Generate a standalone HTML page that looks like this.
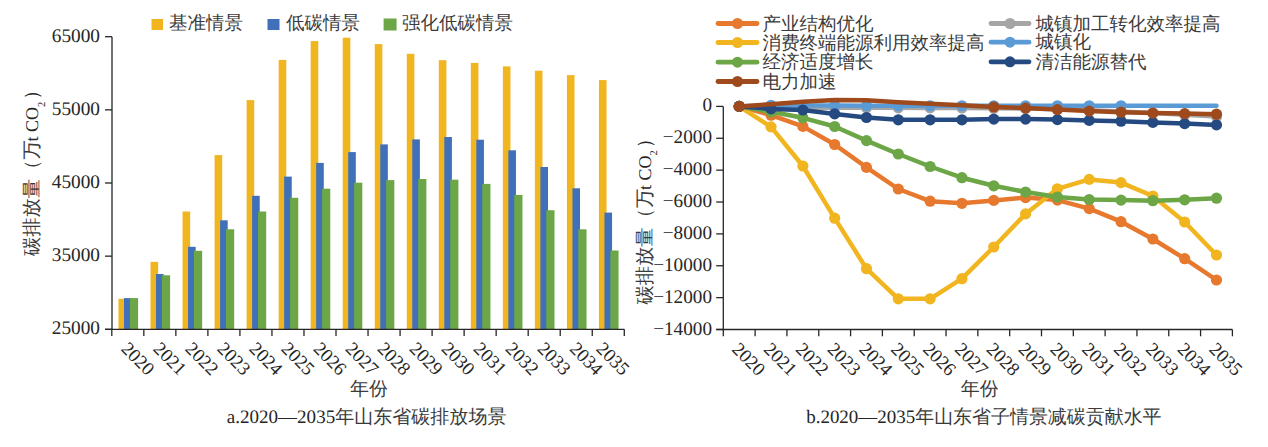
<!DOCTYPE html><html><head><meta charset="utf-8"><style>html,body{margin:0;padding:0;background:#fff;}svg{display:block}text{font-family:"Liberation Serif";text-rendering:geometricPrecision;fill:#262626}</style></head><body>
<svg width="1268" height="447" viewBox="0 0 1268 447">
<rect width="1268" height="447" fill="#fff"/>
<rect x="118.50" y="298.80" width="7.6" height="30.50" fill="#F1B51F"/>
<rect x="124.00" y="298.10" width="7.6" height="31.20" fill="#4070B9"/>
<rect x="129.90" y="298.10" width="8.2" height="31.20" fill="#6CA646"/>
<rect x="150.53" y="261.90" width="7.6" height="67.40" fill="#F1B51F"/>
<rect x="156.03" y="274.00" width="7.6" height="55.30" fill="#4070B9"/>
<rect x="161.93" y="275.30" width="8.2" height="54.00" fill="#6CA646"/>
<rect x="182.56" y="211.50" width="7.6" height="117.80" fill="#F1B51F"/>
<rect x="188.06" y="246.80" width="7.6" height="82.50" fill="#4070B9"/>
<rect x="193.96" y="250.80" width="8.2" height="78.50" fill="#6CA646"/>
<rect x="214.59" y="155.10" width="7.6" height="174.20" fill="#F1B51F"/>
<rect x="220.09" y="220.30" width="7.6" height="109.00" fill="#4070B9"/>
<rect x="225.99" y="229.30" width="8.2" height="100.00" fill="#6CA646"/>
<rect x="246.62" y="100.10" width="7.6" height="229.20" fill="#F1B51F"/>
<rect x="252.12" y="195.80" width="7.6" height="133.50" fill="#4070B9"/>
<rect x="258.02" y="211.50" width="8.2" height="117.80" fill="#6CA646"/>
<rect x="278.65" y="59.90" width="7.6" height="269.40" fill="#F1B51F"/>
<rect x="284.15" y="176.60" width="7.6" height="152.70" fill="#4070B9"/>
<rect x="290.05" y="197.80" width="8.2" height="131.50" fill="#6CA646"/>
<rect x="310.68" y="41.10" width="7.6" height="288.20" fill="#F1B51F"/>
<rect x="316.18" y="162.90" width="7.6" height="166.40" fill="#4070B9"/>
<rect x="322.08" y="188.70" width="8.2" height="140.60" fill="#6CA646"/>
<rect x="342.71" y="37.70" width="7.6" height="291.60" fill="#F1B51F"/>
<rect x="348.21" y="152.10" width="7.6" height="177.20" fill="#4070B9"/>
<rect x="354.11" y="182.70" width="8.2" height="146.60" fill="#6CA646"/>
<rect x="374.74" y="44.10" width="7.6" height="285.20" fill="#F1B51F"/>
<rect x="380.24" y="144.40" width="7.6" height="184.90" fill="#4070B9"/>
<rect x="386.14" y="180.10" width="8.2" height="149.20" fill="#6CA646"/>
<rect x="406.77" y="53.80" width="7.6" height="275.50" fill="#F1B51F"/>
<rect x="412.27" y="139.40" width="7.6" height="189.90" fill="#4070B9"/>
<rect x="418.17" y="179.00" width="8.2" height="150.30" fill="#6CA646"/>
<rect x="438.80" y="60.20" width="7.6" height="269.10" fill="#F1B51F"/>
<rect x="444.30" y="137.00" width="7.6" height="192.30" fill="#4070B9"/>
<rect x="450.20" y="179.70" width="8.2" height="149.60" fill="#6CA646"/>
<rect x="470.83" y="62.90" width="7.6" height="266.40" fill="#F1B51F"/>
<rect x="476.33" y="139.70" width="7.6" height="189.60" fill="#4070B9"/>
<rect x="482.23" y="183.90" width="8.2" height="145.40" fill="#6CA646"/>
<rect x="502.86" y="66.40" width="7.6" height="262.90" fill="#F1B51F"/>
<rect x="508.36" y="150.30" width="7.6" height="179.00" fill="#4070B9"/>
<rect x="514.26" y="194.90" width="8.2" height="134.40" fill="#6CA646"/>
<rect x="534.89" y="70.70" width="7.6" height="258.60" fill="#F1B51F"/>
<rect x="540.39" y="167.00" width="7.6" height="162.30" fill="#4070B9"/>
<rect x="546.29" y="210.20" width="8.2" height="119.10" fill="#6CA646"/>
<rect x="566.92" y="75.10" width="7.6" height="254.20" fill="#F1B51F"/>
<rect x="572.42" y="188.30" width="7.6" height="141.00" fill="#4070B9"/>
<rect x="578.32" y="229.30" width="8.2" height="100.00" fill="#6CA646"/>
<rect x="598.95" y="80.10" width="7.6" height="249.20" fill="#F1B51F"/>
<rect x="604.45" y="212.60" width="7.6" height="116.70" fill="#4070B9"/>
<rect x="610.35" y="250.50" width="8.2" height="78.80" fill="#6CA646"/>
<g stroke="#262626" stroke-width="1.3" fill="none">
<line x1="112" y1="36.7" x2="112" y2="329.30"/>
<line x1="105" y1="36.70" x2="112" y2="36.70"/>
<line x1="105" y1="109.85" x2="112" y2="109.85"/>
<line x1="105" y1="183.00" x2="112" y2="183.00"/>
<line x1="105" y1="256.15" x2="112" y2="256.15"/>
<line x1="105" y1="329.30" x2="112" y2="329.30"/>
<line x1="105" y1="329.30" x2="624.3" y2="329.30"/>
<line x1="111.80" y1="329.30" x2="111.80" y2="336"/>
<line x1="143.83" y1="329.30" x2="143.83" y2="336"/>
<line x1="175.86" y1="329.30" x2="175.86" y2="336"/>
<line x1="207.89" y1="329.30" x2="207.89" y2="336"/>
<line x1="239.92" y1="329.30" x2="239.92" y2="336"/>
<line x1="271.95" y1="329.30" x2="271.95" y2="336"/>
<line x1="303.98" y1="329.30" x2="303.98" y2="336"/>
<line x1="336.01" y1="329.30" x2="336.01" y2="336"/>
<line x1="368.04" y1="329.30" x2="368.04" y2="336"/>
<line x1="400.07" y1="329.30" x2="400.07" y2="336"/>
<line x1="432.10" y1="329.30" x2="432.10" y2="336"/>
<line x1="464.13" y1="329.30" x2="464.13" y2="336"/>
<line x1="496.16" y1="329.30" x2="496.16" y2="336"/>
<line x1="528.19" y1="329.30" x2="528.19" y2="336"/>
<line x1="560.22" y1="329.30" x2="560.22" y2="336"/>
<line x1="592.25" y1="329.30" x2="592.25" y2="336"/>
<line x1="624.28" y1="329.30" x2="624.28" y2="336"/>
</g>
<text x="100" y="41.70" font-size="19.3" text-anchor="end">65000</text>
<text x="100" y="114.85" font-size="19.3" text-anchor="end">55000</text>
<text x="100" y="188.00" font-size="19.3" text-anchor="end">45000</text>
<text x="100" y="261.15" font-size="19.3" text-anchor="end">35000</text>
<text x="100" y="334.30" font-size="19.3" text-anchor="end">25000</text>
<text transform="translate(120.22,349.8) rotate(45)" font-size="18.8">2020</text>
<text transform="translate(152.25,349.8) rotate(45)" font-size="18.8">2021</text>
<text transform="translate(184.28,349.8) rotate(45)" font-size="18.8">2022</text>
<text transform="translate(216.31,349.8) rotate(45)" font-size="18.8">2023</text>
<text transform="translate(248.34,349.8) rotate(45)" font-size="18.8">2024</text>
<text transform="translate(280.37,349.8) rotate(45)" font-size="18.8">2025</text>
<text transform="translate(312.39,349.8) rotate(45)" font-size="18.8">2026</text>
<text transform="translate(344.43,349.8) rotate(45)" font-size="18.8">2027</text>
<text transform="translate(376.45,349.8) rotate(45)" font-size="18.8">2028</text>
<text transform="translate(408.49,349.8) rotate(45)" font-size="18.8">2029</text>
<text transform="translate(440.51,349.8) rotate(45)" font-size="18.8">2030</text>
<text transform="translate(472.55,349.8) rotate(45)" font-size="18.8">2031</text>
<text transform="translate(504.57,349.8) rotate(45)" font-size="18.8">2032</text>
<text transform="translate(536.61,349.8) rotate(45)" font-size="18.8">2033</text>
<text transform="translate(568.63,349.8) rotate(45)" font-size="18.8">2034</text>
<text transform="translate(595.26,349.8) rotate(45)" font-size="18.8">2035</text>
<rect x="151.5" y="19" width="11.5" height="11" fill="#F1B51F"/>
<text x="169" y="29" font-size="18.5" style="fill:#3a3a3a">基准情景</text>
<rect x="267.5" y="19" width="12" height="11" fill="#4070B9"/>
<text x="286" y="29" font-size="18.5" style="fill:#3a3a3a">低碳情景</text>
<rect x="383.6" y="18.5" width="13" height="12" fill="#6CA646"/>
<text x="402" y="29" font-size="18.5" style="fill:#3a3a3a">强化低碳情景</text>
<g transform="translate(0.00,0.00)">
<text transform="translate(38,256) rotate(-90)" font-size="19.3" style="fill:#3a3a3a">碳排放量（万</text>
<text transform="translate(38,141.5) rotate(-90)" font-size="18">t CO</text>
<text transform="translate(44.5,107) rotate(-90)" font-size="10.5">2</text>
<text transform="translate(38,99.8) rotate(-90)" font-size="19.3">）</text>
</g>
<text x="350" y="395" font-size="19" style="fill:#3a3a3a">年份</text>
<text x="226.8" y="422.5" font-size="19.05">a.2020—2035<tspan style="fill:#3a3a3a">年山东省碳排放场景</tspan></text>
<g stroke="#262626" stroke-width="1.3" fill="none">
<line x1="723.3" y1="106.40" x2="723.3" y2="329.50"/>
<line x1="716.2" y1="106.40" x2="723.3" y2="106.40"/>
<line x1="716.2" y1="138.27" x2="723.3" y2="138.27"/>
<line x1="716.2" y1="170.14" x2="723.3" y2="170.14"/>
<line x1="716.2" y1="202.01" x2="723.3" y2="202.01"/>
<line x1="716.2" y1="233.89" x2="723.3" y2="233.89"/>
<line x1="716.2" y1="265.76" x2="723.3" y2="265.76"/>
<line x1="716.2" y1="297.63" x2="723.3" y2="297.63"/>
<line x1="716.2" y1="329.50" x2="723.3" y2="329.50"/>
<line x1="716.2" y1="329.50" x2="1232.4" y2="329.50"/>
<line x1="723.30" y1="329.50" x2="723.30" y2="336.3"/>
<line x1="755.12" y1="329.50" x2="755.12" y2="336.3"/>
<line x1="786.94" y1="329.50" x2="786.94" y2="336.3"/>
<line x1="818.76" y1="329.50" x2="818.76" y2="336.3"/>
<line x1="850.58" y1="329.50" x2="850.58" y2="336.3"/>
<line x1="882.39" y1="329.50" x2="882.39" y2="336.3"/>
<line x1="914.21" y1="329.50" x2="914.21" y2="336.3"/>
<line x1="946.03" y1="329.50" x2="946.03" y2="336.3"/>
<line x1="977.85" y1="329.50" x2="977.85" y2="336.3"/>
<line x1="1009.67" y1="329.50" x2="1009.67" y2="336.3"/>
<line x1="1041.49" y1="329.50" x2="1041.49" y2="336.3"/>
<line x1="1073.31" y1="329.50" x2="1073.31" y2="336.3"/>
<line x1="1105.12" y1="329.50" x2="1105.12" y2="336.3"/>
<line x1="1136.94" y1="329.50" x2="1136.94" y2="336.3"/>
<line x1="1168.76" y1="329.50" x2="1168.76" y2="336.3"/>
<line x1="1200.58" y1="329.50" x2="1200.58" y2="336.3"/>
<line x1="1232.40" y1="329.50" x2="1232.40" y2="336.3"/>
</g>
<text x="712" y="111.40" font-size="19.2" text-anchor="end">0</text>
<text x="712" y="143.27" font-size="19.2" text-anchor="end">−2000</text>
<text x="712" y="175.14" font-size="19.2" text-anchor="end">−4000</text>
<text x="712" y="207.01" font-size="19.2" text-anchor="end">−6000</text>
<text x="712" y="238.89" font-size="19.2" text-anchor="end">−8000</text>
<text x="712" y="270.76" font-size="19.2" text-anchor="end">−10000</text>
<text x="712" y="302.63" font-size="19.2" text-anchor="end">−12000</text>
<text x="712" y="334.50" font-size="19.2" text-anchor="end">−14000</text>
<text transform="translate(731.01,350.3) rotate(45)" font-size="18.8">2020</text>
<text transform="translate(762.83,350.3) rotate(45)" font-size="18.8">2021</text>
<text transform="translate(794.65,350.3) rotate(45)" font-size="18.8">2022</text>
<text transform="translate(826.47,350.3) rotate(45)" font-size="18.8">2023</text>
<text transform="translate(858.28,350.3) rotate(45)" font-size="18.8">2024</text>
<text transform="translate(890.10,350.3) rotate(45)" font-size="18.8">2025</text>
<text transform="translate(921.92,350.3) rotate(45)" font-size="18.8">2026</text>
<text transform="translate(953.74,350.3) rotate(45)" font-size="18.8">2027</text>
<text transform="translate(985.56,350.3) rotate(45)" font-size="18.8">2028</text>
<text transform="translate(1017.38,350.3) rotate(45)" font-size="18.8">2029</text>
<text transform="translate(1049.20,350.3) rotate(45)" font-size="18.8">2030</text>
<text transform="translate(1081.02,350.3) rotate(45)" font-size="18.8">2031</text>
<text transform="translate(1112.83,350.3) rotate(45)" font-size="18.8">2032</text>
<text transform="translate(1144.65,350.3) rotate(45)" font-size="18.8">2033</text>
<text transform="translate(1176.47,350.3) rotate(45)" font-size="18.8">2034</text>
<text transform="translate(1208.29,350.3) rotate(45)" font-size="18.8">2035</text>
<g transform="translate(612.50,48.50)">
<text transform="translate(38,256) rotate(-90)" font-size="19.3" style="fill:#3a3a3a">碳排放量（万</text>
<text transform="translate(38,141.5) rotate(-90)" font-size="18">t CO</text>
<text transform="translate(44.5,107) rotate(-90)" font-size="10.5">2</text>
<text transform="translate(38,99.8) rotate(-90)" font-size="19.3">）</text>
</g>
<text x="960.8" y="395" font-size="19" style="fill:#3a3a3a">年份</text>
<text x="806.2" y="422.5" font-size="18.97">b.2020—2035<tspan style="fill:#3a3a3a">年山东省子情景减碳贡献水平</tspan></text>
<polyline points="739.21,106.40 771.03,115.20 802.85,126.40 834.67,144.50 866.48,167.40 898.30,189.00 930.12,201.20 961.94,203.30 993.76,200.40 1025.58,197.60 1057.40,200.10 1089.22,208.60 1121.03,221.70 1152.85,239.00 1184.67,258.70 1216.49,280.00" fill="none" stroke="#E7792F" stroke-width="4.5" stroke-linejoin="round" stroke-linecap="round"/>
<circle cx="739.21" cy="106.40" r="5.6" fill="#E7792F"/>
<circle cx="771.03" cy="115.20" r="5.6" fill="#E7792F"/>
<circle cx="802.85" cy="126.40" r="5.6" fill="#E7792F"/>
<circle cx="834.67" cy="144.50" r="5.6" fill="#E7792F"/>
<circle cx="866.48" cy="167.40" r="5.6" fill="#E7792F"/>
<circle cx="898.30" cy="189.00" r="5.6" fill="#E7792F"/>
<circle cx="930.12" cy="201.20" r="5.6" fill="#E7792F"/>
<circle cx="961.94" cy="203.30" r="5.6" fill="#E7792F"/>
<circle cx="993.76" cy="200.40" r="5.6" fill="#E7792F"/>
<circle cx="1025.58" cy="197.60" r="5.6" fill="#E7792F"/>
<circle cx="1057.40" cy="200.10" r="5.6" fill="#E7792F"/>
<circle cx="1089.22" cy="208.60" r="5.6" fill="#E7792F"/>
<circle cx="1121.03" cy="221.70" r="5.6" fill="#E7792F"/>
<circle cx="1152.85" cy="239.00" r="5.6" fill="#E7792F"/>
<circle cx="1184.67" cy="258.70" r="5.6" fill="#E7792F"/>
<circle cx="1216.49" cy="280.00" r="5.6" fill="#E7792F"/>
<polyline points="739.21,106.40 771.03,107.00 802.85,107.60 834.67,107.80 866.48,107.80 898.30,107.80 930.12,107.90 961.94,108.00 993.76,108.20 1025.58,108.60 1057.40,109.30 1089.22,110.30 1121.03,111.60 1152.85,113.00 1184.67,114.80 1216.49,116.50" fill="none" stroke="#A5A5A5" stroke-width="4.5" stroke-linejoin="round" stroke-linecap="round"/>
<circle cx="739.21" cy="106.40" r="5.6" fill="#A5A5A5"/>
<circle cx="771.03" cy="107.00" r="5.6" fill="#A5A5A5"/>
<circle cx="802.85" cy="107.60" r="5.6" fill="#A5A5A5"/>
<circle cx="834.67" cy="107.80" r="5.6" fill="#A5A5A5"/>
<circle cx="866.48" cy="107.80" r="5.6" fill="#A5A5A5"/>
<circle cx="898.30" cy="107.80" r="5.6" fill="#A5A5A5"/>
<circle cx="930.12" cy="107.90" r="5.6" fill="#A5A5A5"/>
<circle cx="961.94" cy="108.00" r="5.6" fill="#A5A5A5"/>
<circle cx="993.76" cy="108.20" r="5.6" fill="#A5A5A5"/>
<circle cx="1025.58" cy="108.60" r="5.6" fill="#A5A5A5"/>
<circle cx="1057.40" cy="109.30" r="5.6" fill="#A5A5A5"/>
<circle cx="1089.22" cy="110.30" r="5.6" fill="#A5A5A5"/>
<circle cx="1121.03" cy="111.60" r="5.6" fill="#A5A5A5"/>
<circle cx="1152.85" cy="113.00" r="5.6" fill="#A5A5A5"/>
<circle cx="1184.67" cy="114.80" r="5.6" fill="#A5A5A5"/>
<circle cx="1216.49" cy="116.50" r="5.6" fill="#A5A5A5"/>
<polyline points="739.21,106.40 771.03,126.90 802.85,166.00 834.67,218.20 866.48,268.70 898.30,298.80 930.12,298.80 961.94,278.70 993.76,247.00 1025.58,213.90 1057.40,188.80 1089.22,179.40 1121.03,182.60 1152.85,196.00 1184.67,222.00 1216.49,255.00" fill="none" stroke="#F1B51F" stroke-width="4.5" stroke-linejoin="round" stroke-linecap="round"/>
<circle cx="739.21" cy="106.40" r="5.6" fill="#F1B51F"/>
<circle cx="771.03" cy="126.90" r="5.6" fill="#F1B51F"/>
<circle cx="802.85" cy="166.00" r="5.6" fill="#F1B51F"/>
<circle cx="834.67" cy="218.20" r="5.6" fill="#F1B51F"/>
<circle cx="866.48" cy="268.70" r="5.6" fill="#F1B51F"/>
<circle cx="898.30" cy="298.80" r="5.6" fill="#F1B51F"/>
<circle cx="930.12" cy="298.80" r="5.6" fill="#F1B51F"/>
<circle cx="961.94" cy="278.70" r="5.6" fill="#F1B51F"/>
<circle cx="993.76" cy="247.00" r="5.6" fill="#F1B51F"/>
<circle cx="1025.58" cy="213.90" r="5.6" fill="#F1B51F"/>
<circle cx="1057.40" cy="188.80" r="5.6" fill="#F1B51F"/>
<circle cx="1089.22" cy="179.40" r="5.6" fill="#F1B51F"/>
<circle cx="1121.03" cy="182.60" r="5.6" fill="#F1B51F"/>
<circle cx="1152.85" cy="196.00" r="5.6" fill="#F1B51F"/>
<circle cx="1184.67" cy="222.00" r="5.6" fill="#F1B51F"/>
<circle cx="1216.49" cy="255.00" r="5.6" fill="#F1B51F"/>
<polyline points="739.21,106.40 771.03,105.30 802.85,105.50 834.67,105.50 866.48,105.80 898.30,105.80 930.12,105.80 961.94,105.80 993.76,105.80 1025.58,105.80 1057.40,105.80 1089.22,105.80 1121.03,105.80 1152.85,105.80 1184.67,105.80 1216.49,105.80" fill="none" stroke="#5B9BD5" stroke-width="4.5" stroke-linejoin="round" stroke-linecap="round"/>
<circle cx="739.21" cy="106.40" r="5.6" fill="#5B9BD5"/>
<circle cx="771.03" cy="105.30" r="5.6" fill="#5B9BD5"/>
<circle cx="802.85" cy="105.50" r="5.6" fill="#5B9BD5"/>
<circle cx="834.67" cy="105.50" r="5.6" fill="#5B9BD5"/>
<circle cx="866.48" cy="105.80" r="5.6" fill="#5B9BD5"/>
<circle cx="898.30" cy="105.80" r="5.6" fill="#5B9BD5"/>
<circle cx="930.12" cy="105.80" r="5.6" fill="#5B9BD5"/>
<circle cx="961.94" cy="105.80" r="5.6" fill="#5B9BD5"/>
<circle cx="993.76" cy="105.80" r="5.6" fill="#5B9BD5"/>
<circle cx="1025.58" cy="105.80" r="5.6" fill="#5B9BD5"/>
<circle cx="1057.40" cy="105.80" r="5.6" fill="#5B9BD5"/>
<circle cx="1089.22" cy="105.80" r="5.6" fill="#5B9BD5"/>
<circle cx="1121.03" cy="105.80" r="5.6" fill="#5B9BD5"/>
<polyline points="739.21,106.40 771.03,111.80 802.85,117.80 834.67,126.50 866.48,140.60 898.30,154.00 930.12,166.50 961.94,177.70 993.76,185.80 1025.58,192.00 1057.40,197.00 1089.22,199.50 1121.03,200.10 1152.85,200.70 1184.67,199.80 1216.49,198.20" fill="none" stroke="#6CA646" stroke-width="4.5" stroke-linejoin="round" stroke-linecap="round"/>
<circle cx="739.21" cy="106.40" r="5.6" fill="#6CA646"/>
<circle cx="771.03" cy="111.80" r="5.6" fill="#6CA646"/>
<circle cx="802.85" cy="117.80" r="5.6" fill="#6CA646"/>
<circle cx="834.67" cy="126.50" r="5.6" fill="#6CA646"/>
<circle cx="866.48" cy="140.60" r="5.6" fill="#6CA646"/>
<circle cx="898.30" cy="154.00" r="5.6" fill="#6CA646"/>
<circle cx="930.12" cy="166.50" r="5.6" fill="#6CA646"/>
<circle cx="961.94" cy="177.70" r="5.6" fill="#6CA646"/>
<circle cx="993.76" cy="185.80" r="5.6" fill="#6CA646"/>
<circle cx="1025.58" cy="192.00" r="5.6" fill="#6CA646"/>
<circle cx="1057.40" cy="197.00" r="5.6" fill="#6CA646"/>
<circle cx="1089.22" cy="199.50" r="5.6" fill="#6CA646"/>
<circle cx="1121.03" cy="200.10" r="5.6" fill="#6CA646"/>
<circle cx="1152.85" cy="200.70" r="5.6" fill="#6CA646"/>
<circle cx="1184.67" cy="199.80" r="5.6" fill="#6CA646"/>
<circle cx="1216.49" cy="198.20" r="5.6" fill="#6CA646"/>
<polyline points="739.21,106.40 771.03,108.90 802.85,110.00 834.67,113.90 866.48,117.50 898.30,119.80 930.12,119.80 961.94,119.80 993.76,119.10 1025.58,119.10 1057.40,119.60 1089.22,120.40 1121.03,121.20 1152.85,122.40 1184.67,123.60 1216.49,124.90" fill="none" stroke="#254A82" stroke-width="4.5" stroke-linejoin="round" stroke-linecap="round"/>
<circle cx="739.21" cy="106.40" r="5.6" fill="#254A82"/>
<circle cx="771.03" cy="108.90" r="5.6" fill="#254A82"/>
<circle cx="802.85" cy="110.00" r="5.6" fill="#254A82"/>
<circle cx="834.67" cy="113.90" r="5.6" fill="#254A82"/>
<circle cx="866.48" cy="117.50" r="5.6" fill="#254A82"/>
<circle cx="898.30" cy="119.80" r="5.6" fill="#254A82"/>
<circle cx="930.12" cy="119.80" r="5.6" fill="#254A82"/>
<circle cx="961.94" cy="119.80" r="5.6" fill="#254A82"/>
<circle cx="993.76" cy="119.10" r="5.6" fill="#254A82"/>
<circle cx="1025.58" cy="119.10" r="5.6" fill="#254A82"/>
<circle cx="1057.40" cy="119.60" r="5.6" fill="#254A82"/>
<circle cx="1089.22" cy="120.40" r="5.6" fill="#254A82"/>
<circle cx="1121.03" cy="121.20" r="5.6" fill="#254A82"/>
<circle cx="1152.85" cy="122.40" r="5.6" fill="#254A82"/>
<circle cx="1184.67" cy="123.60" r="5.6" fill="#254A82"/>
<circle cx="1216.49" cy="124.90" r="5.6" fill="#254A82"/>
<polyline points="739.21,106.40 771.03,104.20 802.85,101.80 834.67,100.00 866.48,100.30 898.30,102.30 930.12,103.70 961.94,105.20 993.76,107.00 1025.58,108.10 1057.40,109.60 1089.22,111.10 1121.03,112.20 1152.85,113.10 1184.67,113.60 1216.49,114.20" fill="none" stroke="#9E4A1C" stroke-width="4.5" stroke-linejoin="round" stroke-linecap="round"/>
<circle cx="739.21" cy="106.40" r="5.6" fill="#9E4A1C"/>
<circle cx="993.76" cy="107.00" r="5.6" fill="#9E4A1C"/>
<circle cx="1025.58" cy="108.10" r="5.6" fill="#9E4A1C"/>
<circle cx="1057.40" cy="109.60" r="5.6" fill="#9E4A1C"/>
<circle cx="1089.22" cy="111.10" r="5.6" fill="#9E4A1C"/>
<circle cx="1121.03" cy="112.20" r="5.6" fill="#9E4A1C"/>
<circle cx="1152.85" cy="113.10" r="5.6" fill="#9E4A1C"/>
<circle cx="1184.67" cy="113.60" r="5.6" fill="#9E4A1C"/>
<circle cx="1216.49" cy="114.20" r="5.6" fill="#9E4A1C"/>
<line x1="718.0" y1="23.5" x2="757.0" y2="23.5" stroke="#E7792F" stroke-width="4.8" stroke-linecap="round"/>
<circle cx="737.5" cy="23.5" r="5.5" fill="#E7792F"/>
<text x="762.4" y="29.5" font-size="18.5" style="fill:#3a3a3a">产业结构优化</text>
<line x1="718.0" y1="42.5" x2="757.0" y2="42.5" stroke="#F1B51F" stroke-width="4.8" stroke-linecap="round"/>
<circle cx="737.5" cy="42.5" r="5.5" fill="#F1B51F"/>
<text x="762.4" y="48.5" font-size="18.5" style="fill:#3a3a3a">消费终端能源利用效率提高</text>
<line x1="718.0" y1="62.2" x2="757.0" y2="62.2" stroke="#6CA646" stroke-width="4.8" stroke-linecap="round"/>
<circle cx="737.5" cy="62.2" r="5.5" fill="#6CA646"/>
<text x="762.4" y="68.2" font-size="18.5" style="fill:#3a3a3a">经济适度增长</text>
<line x1="718.0" y1="81.5" x2="757.0" y2="81.5" stroke="#9E4A1C" stroke-width="4.8" stroke-linecap="round"/>
<circle cx="737.5" cy="81.5" r="5.5" fill="#9E4A1C"/>
<text x="762.4" y="87.5" font-size="18.5" style="fill:#3a3a3a">电力加速</text>
<line x1="991.0" y1="23.5" x2="1029.0" y2="23.5" stroke="#A5A5A5" stroke-width="4.8" stroke-linecap="round"/>
<circle cx="1010.0" cy="23.5" r="5.5" fill="#A5A5A5"/>
<text x="1035.6" y="29.5" font-size="18.5" style="fill:#3a3a3a">城镇加工转化效率提高</text>
<line x1="991.0" y1="42.2" x2="1029.0" y2="42.2" stroke="#5B9BD5" stroke-width="4.8" stroke-linecap="round"/>
<circle cx="1010.0" cy="42.2" r="5.5" fill="#5B9BD5"/>
<text x="1035.6" y="48.2" font-size="18.5" style="fill:#3a3a3a">城镇化</text>
<line x1="991.0" y1="61.8" x2="1029.0" y2="61.8" stroke="#254A82" stroke-width="4.8" stroke-linecap="round"/>
<circle cx="1010.0" cy="61.8" r="5.5" fill="#254A82"/>
<text x="1035.6" y="67.8" font-size="18.5" style="fill:#3a3a3a">清洁能源替代</text>
</svg></body></html>
